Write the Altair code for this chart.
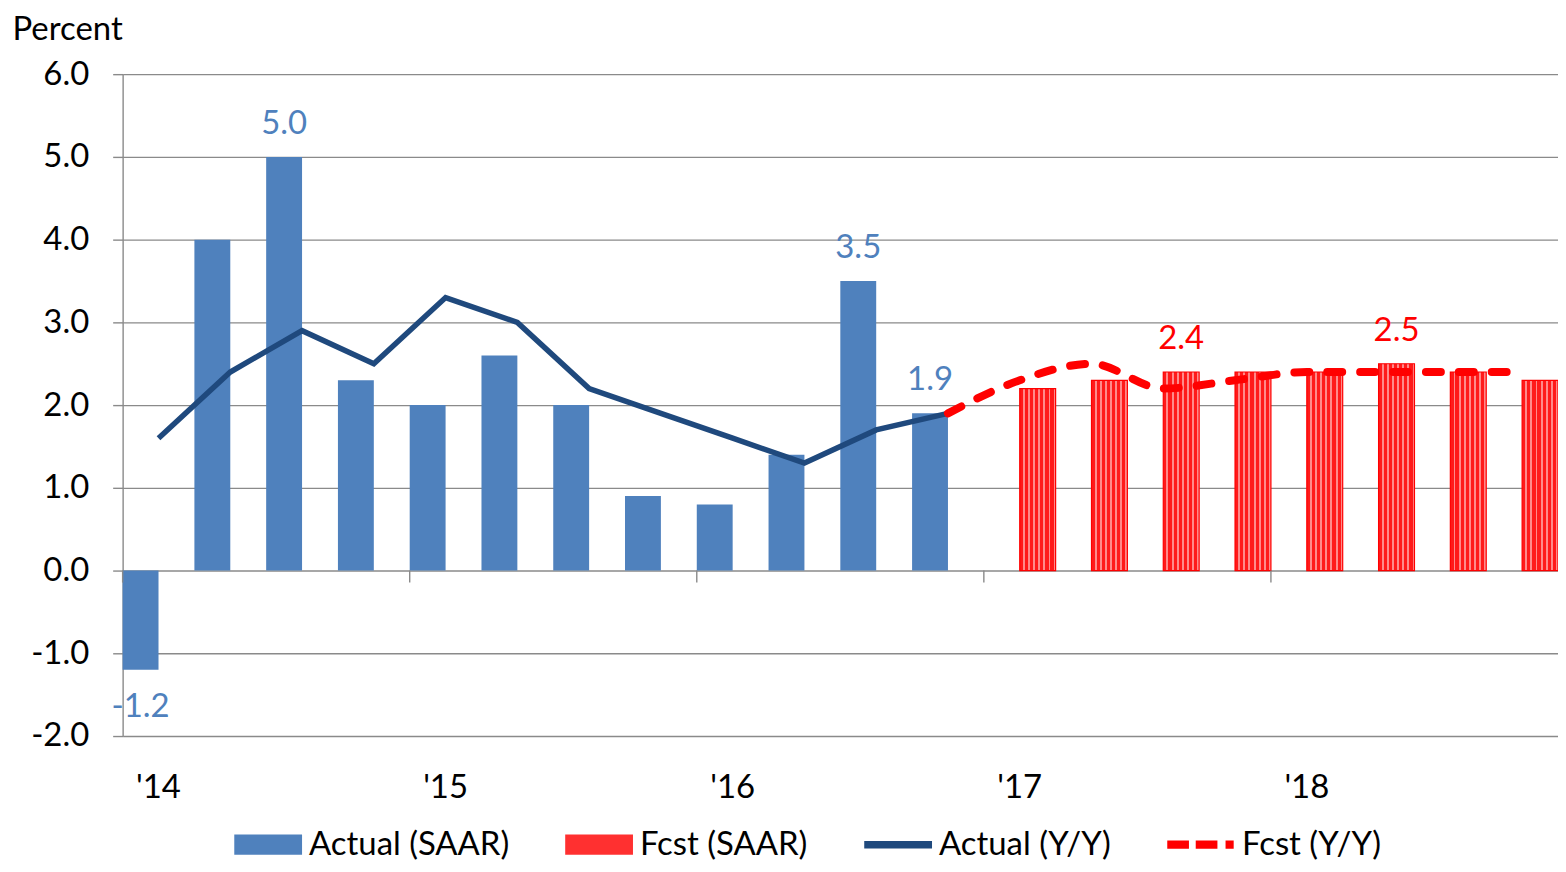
import altair as alt
import pandas as pd

quarters = [f"{y}Q{q}" for y in range(2014, 2019) for q in range(1, 5)]
actual_quarters = quarters[:12]
fcst_quarters = quarters[12:]
fcst_line_quarters = quarters[11:]

actual_saar = [-1.2, 4.0, 5.0, 2.3, 2.0, 2.6, 2.0, 0.9, 0.8, 1.4, 3.5, 1.9]
fcst_saar = [2.2, 2.3, 2.4, 2.4, 2.4, 2.5, 2.4, 2.3]
actual_yy = [1.6, 2.4, 2.9, 2.5, 3.3, 3.0, 2.2, 1.9, 1.6, 1.3, 1.7, 1.9]
fcst_yy = [1.9, 2.3, 2.5, 2.2, 2.3, 2.4, 2.4, 2.4, 2.4]

actual_label_quarters = ["2014Q1", "2014Q3", "2016Q3", "2016Q4"]
fcst_label_quarters = ["2017Q3", "2018Q2"]
year_quarters = ["2014Q1", "2015Q1", "2016Q1", "2017Q1", "2018Q1"]

legend_names = ["Actual (SAAR)", "Fcst (SAAR)", "Actual (Y/Y)", "Fcst (Y/Y)"]
legend_colors = ["#4f81bd", "#ff3030", "#1f497d", "#ff0000"]
legend_shapes = [
    "M-1,-0.3H1V0.3H-1Z",
    "M-1,-0.3H1V0.3H-1Z",
    "M-1,-0.11H1V0.11H-1Z",
    "M-1,-0.12H-0.36V0.12H-1Z M-0.16,-0.12H0.48V0.12H-0.16Z M0.72,-0.12H0.96V0.12H0.72Z",
]

FONT = "Lato"
FS = 33
GRID = "#8a8a8a"
BLUE = "#4f81bd"
NAVY = "#1f497d"
RED = "#ff0000"

bars_a = pd.DataFrame({"q": actual_quarters, "v": actual_saar, "s": "Actual"})
bars_f = pd.DataFrame({"q": fcst_quarters, "v": fcst_saar, "s": "Fcst"})
line_a = pd.DataFrame({"q": actual_quarters, "v": actual_yy})
line_f = pd.DataFrame({"q": fcst_line_quarters, "v": fcst_yy})
lab_a = bars_a[bars_a["q"].isin(actual_label_quarters)].copy()
lab_f = bars_f[bars_f["q"].isin(fcst_label_quarters)].copy()
lab_a["t"] = [f"{v:.1f}" for v in lab_a["v"]]
lab_f["t"] = [f"{v:.1f}" for v in lab_f["v"]]
ticks_df = pd.DataFrame({"q": year_quarters, "y0": 0.0, "y1": -0.145})
legend_df = pd.DataFrame({"name": legend_names, "q": quarters[0], "v": -100.0})

xscale = alt.Scale(domain=quarters, paddingInner=0, paddingOuter=0)
yscale = alt.Scale(domain=[-2, 6], nice=False, zero=False)
offscale = alt.Scale(domain=["Actual", "Fcst"], paddingInner=0, paddingOuter=0)

x_axis = alt.Axis(
    values=year_quarters,
    labelExpr="\"'\" + substring(datum.label, 2, 4)",
    domain=False, ticks=False, grid=False, labelAngle=0,
    labelFontSize=FS, labelColor="#000000", labelPadding=36, title=None,
)
y_axis = alt.Axis(
    values=list(range(-2, 7)), format=".1f",
    labelExpr="replace(datum.label, '\u2212', '-')",
    grid=True, gridColor=GRID, gridWidth=1.4,
    domainColor=GRID, domainWidth=1.4, tickColor=GRID, tickWidth=1.4, tickSize=10,
    labelFontSize=FS, labelColor="#000000", labelPadding=24,
    title="Percent", titleAngle=0, titleAlign="left", titleBaseline="middle",
    titleX=-111, titleY=-45, titleFontSize=FS, titleFontWeight="normal", titleColor="#000000",
)

X = alt.X("q:N", scale=xscale, axis=x_axis)
Y = alt.Y("v:Q", scale=yscale, axis=y_axis)
XO = alt.XOffset("s:N", scale=offscale)

# dotted-texture look for the forecast bars: thin light stripes on red
stops = []
n = 7
for i in range(n):
    a = i / n
    b = (i + 0.62) / n
    c = (i + 1) / n
    stops += [
        alt.GradientStop(offset=a, color="#ff1a1a"),
        alt.GradientStop(offset=b, color="#ff1a1a"),
        alt.GradientStop(offset=b, color="#ff8a8a"),
        alt.GradientStop(offset=c, color="#ff8a8a"),
    ]
fcst_fill = alt.LinearGradient(gradient="linear", stops=stops, x1=0, x2=1, y1=0, y2=0)

bar_actual = alt.Chart(bars_a).mark_bar(color=BLUE).encode(x=X, xOffset=XO, y=Y)
bar_fcst = alt.Chart(bars_f).mark_bar(fill=fcst_fill, stroke=RED, strokeWidth=1.2).encode(
    x=X, xOffset=XO, y=Y
)

ln_actual = alt.Chart(line_a).mark_line(color=NAVY, strokeWidth=5.5).encode(x=X, y=Y)
ln_fcst = alt.Chart(line_f).mark_line(
    color=RED, strokeWidth=8, strokeDash=[15, 18], strokeCap="round", interpolate="monotone"
).encode(x=X, y=Y)

txt_a_pos = alt.Chart(lab_a).transform_filter("datum.v >= 0").mark_text(
    color=BLUE, fontSize=FS, dy=-33, baseline="middle"
).encode(x=X, xOffset=XO, y=Y, text="t:N")
txt_a_neg = alt.Chart(lab_a).transform_filter("datum.v < 0").mark_text(
    color=BLUE, fontSize=FS, dy=37, baseline="middle"
).encode(x=X, xOffset=XO, y=Y, text="t:N")
txt_f = alt.Chart(lab_f).mark_text(
    color=RED, fontSize=FS, dy=-33, baseline="middle"
).encode(x=X, xOffset=XO, y=Y, text="t:N")

year_ticks = alt.Chart(ticks_df).mark_rule(color=GRID, strokeWidth=1.4).encode(
    x=alt.X("q:N", scale=xscale, axis=x_axis, bandPosition=0),
    y=alt.Y("y0:Q", scale=yscale, axis=y_axis),
    y2="y1:Q",
)

legend_layer = alt.Chart(legend_df).mark_point(
    filled=True, clip=True, opacity=1, size=4624, strokeWidth=0
).encode(
    x=X,
    y=Y,
    color=alt.Color(
        "name:N",
        scale=alt.Scale(domain=legend_names, range=legend_colors),
        legend=alt.Legend(
            title=None, orient="none", legendX=112, legendY=739, direction="horizontal",
            columns=4, columnPadding=56, labelFontSize=33, labelColor="#000000",
            labelLimit=500, labelOffset=7, symbolSize=4624, symbolStrokeWidth=0,
            symbolOpacity=1, padding=0,
        ),
    ),
    shape=alt.Shape("name:N", scale=alt.Scale(domain=legend_names, range=legend_shapes)),
)

chart = alt.layer(
    bar_actual, bar_fcst, ln_actual, ln_fcst, txt_a_pos, txt_a_neg, txt_f, year_ticks, legend_layer
).properties(
    width=1440, height=664,
    padding={"left": 115, "top": 65, "right": 0, "bottom": 127},
    autosize=alt.AutoSizeParams(type="none"),
).configure(font=FONT).configure_view(stroke=None)

chart.save("out.html", embed_options={"renderer": "svg", "actions": False})
